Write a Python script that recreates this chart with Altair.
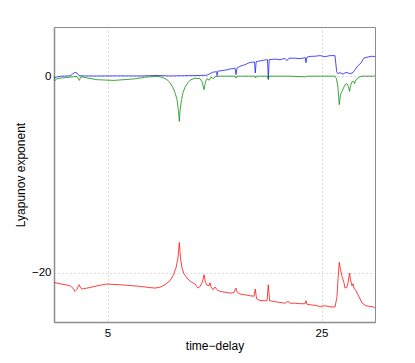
import altair as alt
import pandas as pd

blue_x = [0.00,0.37,0.75,1.50,1.78,1.96,2.15,2.34,2.90,4.30,6.17,8.04,9.63,10.84,12.24,13.64,14.30,14.86,15.21,15.23,15.33,15.98,16.45,16.92,17.01,17.10,17.38,17.85,18.32,18.74,18.81,18.90,19.25,19.63,19.95,20.03,20.11,20.65,21.12,21.59,21.78,21.96,22.52,22.99,23.48,23.55,23.63,23.93,24.39,24.86,25.33,25.79,26.26,26.42,26.54,26.73,27.01,27.29,27.66,27.94,28.13,28.41,28.69,28.97,29.35,29.72,30.00]
blue_y = [-0.18,-0.05,0.00,0.03,0.25,0.39,0.31,0.05,0.02,0.02,0.03,0.02,0.07,0.02,0.05,0.07,0.10,0.41,0.46,0.05,0.51,0.61,0.73,0.81,0.15,0.83,1.00,1.17,1.40,1.44,0.33,1.48,1.55,1.63,1.68,-0.28,1.68,1.73,1.68,1.80,1.58,1.83,1.83,1.78,1.88,1.37,1.93,2.01,2.03,2.09,1.98,2.09,2.09,0.46,0.25,0.36,0.20,0.39,0.25,0.36,0.66,1.07,1.34,1.85,1.95,2.03,2.00]

green_x = [0.00,0.09,0.28,0.75,1.50,1.96,2.15,2.36,2.52,3.08,4.02,5.61,7.48,8.69,9.63,10.09,10.56,10.84,11.12,11.31,11.50,11.64,11.71,11.79,11.92,12.06,12.24,12.52,12.71,13.18,13.64,13.83,14.02,14.16,14.30,14.51,14.67,14.91,15.05,15.51,16.92,17.01,17.10,18.79,18.85,18.93,19.95,20.03,20.11,22.06,23.55,23.64,26.26,26.40,26.54,26.66,26.78,26.92,27.20,27.38,27.52,27.62,27.71,27.85,27.99,28.08,28.22,28.41,28.60,28.88,30.00]
green_y = [-0.02,-0.46,-0.25,-0.18,-0.10,-0.03,-0.05,-0.43,-0.05,-0.18,-0.36,-0.43,-0.28,-0.08,-0.02,-0.10,-0.36,-0.66,-1.17,-1.68,-2.39,-3.61,-4.60,-3.41,-2.39,-1.68,-1.12,-0.66,-0.41,-0.20,-0.25,-0.56,-1.37,-0.56,-0.25,-0.41,-0.10,-0.25,-0.05,0,0,-0.20,0,0,-0.18,0,0,-0.36,0,0,-0.07,0,0,-0.25,-1.17,-2.90,-1.88,-1.55,-0.86,-0.76,-1.07,-1.55,-0.97,-0.56,-0.53,-0.76,-0.36,-0.18,-0.05,0,0]

red_x = [0.00,0.56,1.50,1.78,1.96,2.15,2.29,2.36,2.48,2.62,3.36,4.30,4.95,6.17,7.10,8.04,8.97,9.44,9.91,10.37,10.84,11.12,11.40,11.59,11.71,11.82,11.96,12.15,12.43,12.80,13.18,13.46,13.64,13.88,14.02,14.16,14.30,14.49,14.58,14.67,14.86,15.05,15.23,15.51,15.98,16.45,16.82,16.92,17.01,17.10,17.38,17.85,18.32,18.69,18.81,18.93,19.25,19.63,19.91,20.03,20.15,20.65,21.12,21.59,21.87,22.06,22.52,22.99,23.46,23.55,23.64,23.93,24.39,24.86,25.33,25.79,26.26,26.36,26.45,26.54,26.66,26.78,26.92,27.10,27.20,27.38,27.48,27.62,27.71,27.85,27.94,28.04,28.22,28.41,28.60,28.79,29.16,29.53,29.81,30.00]
red_y = [-20.98,-21.11,-21.31,-21.57,-21.89,-21.67,-21.31,-21.21,-21.52,-21.65,-21.49,-21.26,-21.14,-21.21,-21.29,-21.38,-21.50,-21.55,-21.46,-21.21,-20.80,-20.30,-19.51,-18.46,-16.91,-18.46,-19.51,-20.09,-20.53,-20.91,-21.14,-21.55,-21.41,-20.91,-20.19,-21.01,-21.26,-21.31,-21.01,-21.41,-21.72,-21.44,-21.72,-21.89,-21.97,-22.06,-22.02,-21.72,-21.55,-21.93,-22.16,-22.23,-22.33,-22.38,-21.65,-22.64,-22.81,-22.84,-22.84,-21.21,-22.84,-22.94,-23.01,-23.09,-22.89,-23.09,-23.09,-23.14,-23.14,-22.84,-23.19,-23.25,-23.30,-23.42,-23.35,-23.45,-23.48,-22.94,-22.40,-20.70,-18.94,-19.67,-20.37,-21.01,-21.55,-21.46,-21.01,-20.02,-20.70,-21.31,-21.11,-21.55,-21.82,-22.23,-22.64,-23.07,-23.35,-23.42,-23.45,-23.58]

x_ticks = [5, 25]
y_ticks = [0, -20]

FONT = "Liberation Sans"

x_enc = alt.X("t:Q", scale=alt.Scale(domain=[0, 30], nice=False, zero=False),
              axis=alt.Axis(values=x_ticks, title="time\u2212delay", ticks=False,
                            labelPadding=5, titleY=27, titleBaseline="alphabetic"))
y_enc = alt.Y("v:Q", scale=alt.Scale(domain=[-25, 5], nice=False, zero=False),
              axis=alt.Axis(values=y_ticks, title="Lyapunov exponent", ticks=False,
                            labelExpr="datum.value < 0 ? '\u2212' + abs(datum.value) : '' + datum.value",
                            labelPadding=3, titleAngle=270, titleX=-30, titleY=147.5,
                            titleAlign="center", titleBaseline="alphabetic"))


def series(xs, ys, color):
    df = pd.DataFrame({"t": xs, "v": ys, "i": list(range(len(xs)))})
    return alt.Chart(df).mark_line(color=color, strokeWidth=0.8).encode(
        x=x_enc, y=y_enc, order="i:Q")


chart = alt.layer(
    series(blue_x, blue_y, "#2020ff"),
    series(green_x, green_y, "#109010"),
    series(red_x, red_y, "#ff1010"),
).properties(
    width=321, height=295,
    autosize=alt.AutoSizeParams(type="none"),
    padding={"left": 46, "top": 19, "right": 30, "bottom": 40},
).configure_view(
    stroke="#8c8c8c", strokeWidth=1
).configure_axis(
    domainColor="#8c8c8c", domainWidth=1.5,
    grid=True, gridColor="#b8b8b8", gridDash=[1, 3], gridWidth=1,
    labelFont=FONT, labelFontSize=11.5, labelColor="#000000",
    titleFont=FONT, titleFontSize=12, titleFontWeight="normal", titleColor="#000000",
)

chart.save("out.html", embed_options={"renderer": "svg", "actions": False})
